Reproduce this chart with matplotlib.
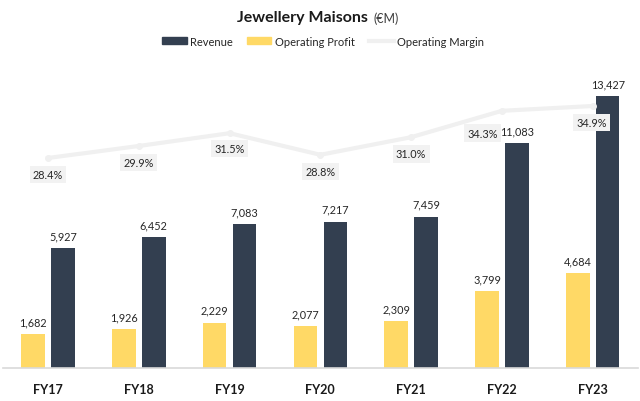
import matplotlib
matplotlib.use("Agg")
from matplotlib import pyplot as plt
from matplotlib.lines import Line2D
from matplotlib.patches import Patch
import numpy as np

# data
years = ["FY17", "FY18", "FY19", "FY20", "FY21", "FY22", "FY23"]
revenue = [5927, 6452, 7083, 7217, 7459, 11083, 13427]
op_profit = [1682, 1926, 2229, 2077, 2309, 3799, 4684]
op_margin = [28.4, 29.9, 31.5, 28.8, 31.0, 34.3, 34.9]

dark = "#333f50"
yellow = "#ffd966"
light = "#f0f0f0"

plt.rcParams["font.family"] = ["Lato", "DejaVu Sans"]

fig = plt.figure(figsize=(6.4, 4.02), dpi=100)
W, H = 640, 402
# axes box in pixels
ax = fig.add_axes([2.6 / W, 1 - 369 / H, 635.5 / W, (369 - 65) / H])
x = np.arange(len(years))
bw = 0.26
off = 0.165

ax.bar(x - off, op_profit, bw, color=yellow, zorder=2)
ax.bar(x + off, revenue, bw, color=dark, zorder=2)
ax.set_xlim(-0.5, 6.5)
ax.set_ylim(0, 15000)

for xi, v in zip(x, op_profit):
    ax.annotate(f"{v:,}", (xi - off, v), xytext=(0, 5), textcoords="offset points",
                ha="center", va="bottom", fontsize=7.8, color="#262626")
for xi, v in zip(x, revenue):
    ax.annotate(f"{v:,}", (xi + off, v), xytext=(0, 5), textcoords="offset points",
                ha="center", va="bottom", fontsize=7.8, color="#262626")

for s in ["top", "right", "left"]:
    ax.spines[s].set_visible(False)
ax.spines["bottom"].set_color("#d9d9d9")
ax.spines["bottom"].set_linewidth(1.2)
ax.set_yticks([])
ax.set_xticks(x)
ax.set_xticklabels(years, fontsize=9, fontweight="bold", color="#1a1a1a")
ax.tick_params(axis="x", length=0, pad=11)

ax2 = ax.twinx()
ax2.set_ylim(2.15, 40.15)
ax2.plot(x, op_margin, color=light, lw=3, marker="o", ms=4, zorder=3)
ax2.axis("off")
offsets = [(0, -12), (0, -12), (0, -11), (0, -12), (0, -12), (-14, -16), (-1, -12)]
for xi, v, o in zip(x, op_margin, offsets):
    ax2.annotate(f"{v:.1f}%", (xi, v), xytext=o, textcoords="offset points",
                 ha="center", va="center", fontsize=7.8, color="#262626",
                 bbox=dict(boxstyle="square,pad=0.3", fc="#f2f2f2", ec="none"))

fig.text(368 / W, 1 - 18 / H, "Jewellery Maisons", ha="right", va="center",
         fontsize=11.5, fontweight="bold", color="#1a1a1a")
fig.text(373 / W, 1 - 19 / H, "(€M)", ha="left", va="center", fontsize=9, color="#404040")

handles = [Patch(color=dark), Patch(color=yellow), Line2D([], [], color=light, lw=3)]
fig.legend(handles, ["Revenue", "Operating Profit", "Operating Margin"],
           loc="center", bbox_to_anchor=(323 / W, 1 - 42 / H), ncol=3, frameon=False,
           fontsize=8, handlelength=2.2, handleheight=0.5, columnspacing=1.3,
           handletextpad=0.3, labelcolor="#262626")

fig.savefig("out.png", dpi=100)
